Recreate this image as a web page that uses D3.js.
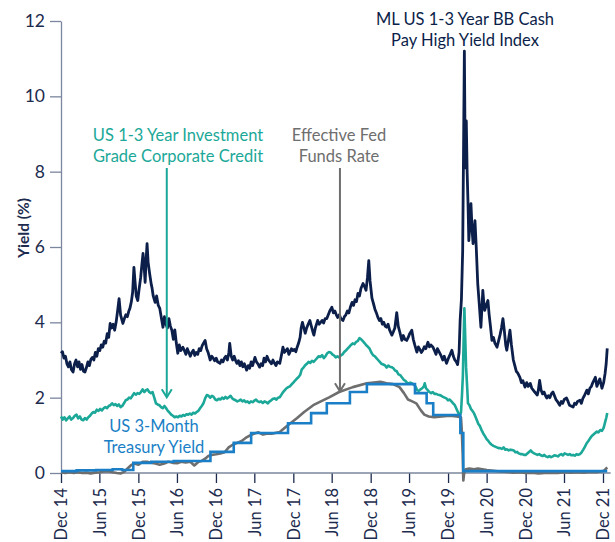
<!DOCTYPE html>
<html><head><meta charset="utf-8">
<script src="https://cdn.jsdelivr.net/npm/d3@7"></script>
<style>
body{margin:0;background:#fff}
svg{display:block}
text{font-family:Lato, "Open Sans", sans-serif}
</style>
</head><body>
<svg id="chart" width="615" height="542"></svg>
<script>
// ---------- DATA ----------
const xTickDates = ["2014-12-31","2015-06-30","2015-12-31","2016-06-30","2016-12-31","2017-06-30","2017-12-31","2018-06-30","2018-12-31","2019-06-30","2019-12-31","2020-06-30","2020-12-31","2021-06-30","2021-12-31"];
const xTickLabels = ["Dec 14","Jun 15","Dec 15","Jun 16","Dec 16","Jun 17","Dec 17","Jun 18","Dec 18","Jun 19","Dec 19","Jun 20","Dec 20","Jun 21","Dec 21"];
const yTicks = [0,2,4,6,8,10,12];

// ML US 1-3 Year BB Cash Pay High Yield Index
const highYield = [
["2014-12-31",3.18],["2015-01-07",3.22],["2015-01-14",3.05],["2015-01-21",3.1],["2015-01-28",2.9],["2015-02-04",2.82],["2015-02-11",2.95],["2015-02-18",2.75],["2015-02-26",2.68],["2015-03-05",2.9],["2015-03-12",3.0],["2015-03-19",2.82],["2015-03-26",2.95],["2015-04-02",2.75],["2015-04-09",2.88],["2015-04-16",2.7],["2015-04-23",2.68],["2015-04-30",2.8],["2015-05-07",2.95],["2015-05-14",2.85],["2015-05-21",3.02],["2015-05-28",3.07],["2015-06-04",3.0],["2015-06-11",3.2],["2015-06-18",3.1],["2015-06-25",3.3],["2015-07-02",3.25],["2015-07-09",3.4],["2015-07-16",3.34],["2015-07-23",3.5],["2015-07-30",3.45],["2015-08-06",3.7],["2015-08-13",3.6],["2015-08-20",3.97],["2015-08-27",3.85],["2015-09-03",3.95],["2015-09-10",3.79],["2015-09-17",4.0],["2015-09-24",4.3],["2015-10-01",4.63],["2015-10-08",4.2],["2015-10-15",4.05],["2015-10-19",3.97],["2015-10-26",4.1],["2015-11-02",4.2],["2015-11-09",4.15],["2015-11-16",4.3],["2015-11-21",4.37],["2015-11-28",4.55],["2015-12-04",4.8],["2015-12-10",5.46],["2015-12-15",5.1],["2015-12-21",4.7],["2015-12-28",4.58],["2016-01-04",4.9],["2016-01-11",5.2],["2016-01-16",5.5],["2016-01-22",5.83],["2016-01-27",5.5],["2016-02-01",5.06],["2016-02-05",5.6],["2016-02-10",6.09],["2016-02-15",5.6],["2016-02-22",5.3],["2016-03-01",5.0],["2016-03-04",4.93],["2016-03-10",4.7],["2016-03-19",4.53],["2016-03-26",4.7],["2016-04-03",4.45],["2016-04-10",4.37],["2016-04-18",4.1],["2016-04-25",3.87],["2016-05-02",4.15],["2016-05-09",3.95],["2016-05-16",3.85],["2016-05-23",4.1],["2016-05-30",3.9],["2016-06-06",3.79],["2016-06-13",3.55],["2016-06-20",3.8],["2016-06-27",3.45],["2016-07-04",3.18],["2016-07-11",3.4],["2016-07-18",3.25],["2016-07-28",3.34],["2016-08-04",3.25],["2016-08-11",3.15],["2016-08-18",3.3],["2016-08-25",3.2],["2016-09-01",3.1],["2016-09-08",3.2],["2016-09-15",3.26],["2016-09-22",3.12],["2016-09-29",3.2],["2016-10-06",3.15],["2016-10-13",3.3],["2016-10-20",3.25],["2016-10-27",3.38],["2016-11-03",3.45],["2016-11-10",3.52],["2016-11-17",3.3],["2016-11-24",3.2],["2016-12-04",3.0],["2016-12-11",3.1],["2016-12-18",3.05],["2016-12-25",2.98],["2017-01-01",3.05],["2017-01-08",2.95],["2017-01-19",2.91],["2017-01-26",3.0],["2017-02-02",2.95],["2017-02-09",3.05],["2017-02-16",3.1],["2017-02-23",3.0],["2017-03-02",3.2],["2017-03-06",3.44],["2017-03-13",3.1],["2017-03-20",3.0],["2017-03-27",3.1],["2017-04-03",2.98],["2017-04-09",2.91],["2017-04-16",2.98],["2017-04-23",2.85],["2017-04-30",2.95],["2017-05-07",2.82],["2017-05-14",2.9],["2017-05-25",2.73],["2017-06-01",2.85],["2017-06-08",2.78],["2017-06-15",2.95],["2017-06-22",2.85],["2017-07-03",3.07],["2017-07-10",2.95],["2017-07-17",2.9],["2017-07-25",2.81],["2017-08-01",2.9],["2017-08-08",2.85],["2017-08-15",3.05],["2017-08-22",2.95],["2017-08-29",3.1],["2017-09-05",3.0],["2017-09-12",2.95],["2017-09-19",2.9],["2017-09-26",3.0],["2017-10-03",2.92],["2017-10-10",2.85],["2017-10-17",2.95],["2017-10-28",2.91],["2017-11-04",3.1],["2017-11-12",3.34],["2017-11-19",3.2],["2017-11-26",3.25],["2017-12-03",3.3],["2017-12-10",3.15],["2017-12-15",3.21],["2017-12-22",3.3],["2017-12-29",3.25],["2018-01-05",3.28],["2018-01-12",3.22],["2018-01-18",3.34],["2018-01-25",3.45],["2018-02-01",3.6],["2018-02-06",3.85],["2018-02-12",4.0],["2018-02-19",3.85],["2018-02-25",3.71],["2018-03-04",3.85],["2018-03-11",3.95],["2018-03-19",4.05],["2018-03-26",3.9],["2018-04-02",3.75],["2018-04-07",3.66],["2018-04-14",3.85],["2018-04-25",4.05],["2018-05-02",3.95],["2018-05-09",4.0],["2018-05-16",4.05],["2018-05-23",3.98],["2018-05-30",4.1],["2018-06-07",4.1],["2018-06-14",4.2],["2018-06-21",4.3],["2018-07-01",4.4],["2018-07-08",4.25],["2018-07-15",4.3],["2018-07-22",4.2],["2018-07-28",4.13],["2018-08-05",4.2],["2018-08-12",4.1],["2018-08-22",4.05],["2018-08-29",4.15],["2018-09-05",4.2],["2018-09-12",4.3],["2018-09-19",4.25],["2018-09-26",4.4],["2018-10-04",4.53],["2018-10-11",4.45],["2018-10-18",4.6],["2018-10-25",4.55],["2018-11-01",4.77],["2018-11-08",4.7],["2018-11-15",4.9],["2018-11-25",5.03],["2018-12-02",4.95],["2018-12-09",4.85],["2018-12-16",5.2],["2018-12-22",5.64],["2018-12-28",5.1],["2019-01-06",4.64],["2019-01-13",4.5],["2019-01-20",4.35],["2019-01-27",4.25],["2019-02-03",4.13],["2019-02-10",4.05],["2019-02-17",4.1],["2019-02-24",3.95],["2019-03-03",4.0],["2019-03-09",3.9],["2019-03-16",3.87],["2019-03-23",3.95],["2019-03-30",3.8],["2019-04-10",3.66],["2019-04-17",3.75],["2019-04-24",3.85],["2019-05-03",4.26],["2019-05-10",3.9],["2019-05-17",3.75],["2019-05-27",3.52],["2019-06-03",3.65],["2019-06-10",3.55],["2019-06-19",3.52],["2019-06-26",3.6],["2019-07-03",3.7],["2019-07-13",3.79],["2019-07-20",3.55],["2019-07-27",3.4],["2019-08-06",3.21],["2019-08-13",3.35],["2019-08-20",3.28],["2019-08-27",3.2],["2019-09-03",3.26],["2019-09-10",3.35],["2019-09-17",3.3],["2019-09-27",3.47],["2019-10-04",3.35],["2019-10-11",3.4],["2019-10-21",3.34],["2019-10-28",3.25],["2019-11-04",3.15],["2019-11-11",3.3],["2019-11-22",3.18],["2019-11-29",3.1],["2019-12-06",3.0],["2019-12-13",3.1],["2019-12-24",2.91],["2020-01-02",3.05],["2020-01-10",3.15],["2020-01-18",3.26],["2020-01-25",3.1],["2020-02-01",3.0],["2020-02-08",2.95],["2020-02-14",2.88],["2020-02-21",3.2],["2020-02-26",4.05],["2020-03-03",4.6],["2020-03-09",5.9],["2020-03-13",8.5],["2020-03-17",11.2],["2020-03-20",9.0],["2020-03-23",8.1],["2020-03-26",9.35],["2020-03-30",8.0],["2020-04-03",7.2],["2020-04-07",6.17],["2020-04-12",6.6],["2020-04-17",7.15],["2020-04-22",6.5],["2020-04-27",6.09],["2020-05-02",6.4],["2020-05-06",6.7],["2020-05-12",6.0],["2020-05-19",5.03],["2020-05-26",4.5],["2020-06-03",3.87],["2020-06-08",4.4],["2020-06-12",4.85],["2020-06-17",4.5],["2020-06-21",4.32],["2020-06-28",4.45],["2020-07-06",4.58],["2020-07-12",4.2],["2020-07-18",3.9],["2020-07-25",3.52],["2020-08-01",3.6],["2020-08-08",3.45],["2020-08-18",3.34],["2020-08-25",3.5],["2020-09-01",3.66],["2020-09-08",3.85],["2020-09-15",4.1],["2020-09-22",3.75],["2020-09-28",3.4],["2020-10-03",3.26],["2020-10-10",3.5],["2020-10-18",3.79],["2020-10-25",3.4],["2020-11-03",3.0],["2020-11-10",2.85],["2020-11-17",2.7],["2020-11-24",2.65],["2020-12-04",2.54],["2020-12-11",2.4],["2020-12-18",2.45],["2020-12-28",2.28],["2021-01-05",2.4],["2021-01-12",2.3],["2021-01-22",2.38],["2021-01-29",2.25],["2021-02-05",2.2],["2021-02-12",2.15],["2021-02-24",2.07],["2021-03-01",2.2],["2021-03-07",2.46],["2021-03-14",2.2],["2021-03-21",2.1],["2021-03-28",2.15],["2021-04-04",2.05],["2021-04-10",1.99],["2021-04-17",2.05],["2021-04-24",2.0],["2021-05-01",2.1],["2021-05-09",2.15],["2021-05-16",2.05],["2021-05-23",1.95],["2021-05-30",1.9],["2021-06-10",1.8],["2021-06-17",1.9],["2021-06-24",1.85],["2021-07-01",1.95],["2021-07-12",1.99],["2021-07-19",1.9],["2021-07-26",1.8],["2021-08-02",1.78],["2021-08-12",1.75],["2021-08-19",1.85],["2021-08-26",1.82],["2021-09-02",1.9],["2021-09-13",1.93],["2021-09-20",1.85],["2021-09-27",1.98],["2021-10-04",2.05],["2021-10-16",2.2],["2021-10-23",2.1],["2021-10-30",2.25],["2021-11-06",2.3],["2021-11-13",2.4],["2021-11-25",2.54],["2021-12-02",2.3],["2021-12-09",2.4],["2021-12-16",2.5],["2021-12-26",2.25],["2022-01-03",2.4],["2022-01-10",2.65],["2022-01-15",2.9],["2022-01-20",3.31]
];

// US 1-3 Year Investment Grade Corporate Credit
const investmentGrade = [
["2014-12-31",1.5],["2015-01-08",1.42],["2015-01-16",1.48],["2015-01-24",1.4],["2015-02-01",1.45],["2015-02-09",1.5],["2015-02-17",1.42],["2015-02-26",1.46],["2015-03-06",1.52],["2015-03-14",1.55],["2015-03-22",1.45],["2015-03-30",1.5],["2015-04-07",1.42],["2015-04-15",1.4],["2015-04-23",1.46],["2015-05-01",1.42],["2015-05-09",1.48],["2015-05-17",1.52],["2015-05-25",1.58],["2015-06-02",1.62],["2015-06-10",1.6],["2015-06-18",1.68],["2015-06-26",1.65],["2015-07-04",1.7],["2015-07-12",1.66],["2015-07-20",1.72],["2015-07-28",1.75],["2015-08-05",1.72],["2015-08-13",1.78],["2015-08-21",1.8],["2015-08-29",1.85],["2015-09-06",1.8],["2015-09-14",1.83],["2015-09-22",1.78],["2015-09-30",1.82],["2015-10-08",1.75],["2015-10-16",1.78],["2015-10-24",1.85],["2015-11-01",1.93],["2015-11-09",1.95],["2015-11-17",2.0],["2015-11-25",1.98],["2015-12-03",2.05],["2015-12-11",2.12],["2015-12-19",2.08],["2015-12-27",2.12],["2016-01-04",2.1],["2016-01-12",2.15],["2016-01-20",2.22],["2016-01-28",2.15],["2016-02-05",2.2],["2016-02-12",2.22],["2016-02-20",2.15],["2016-02-28",2.12],["2016-03-07",2.15],["2016-03-15",2.0],["2016-03-23",1.85],["2016-03-31",1.82],["2016-04-08",1.8],["2016-04-16",1.75],["2016-04-24",1.72],["2016-05-02",1.78],["2016-05-10",1.72],["2016-05-18",1.65],["2016-05-26",1.6],["2016-06-03",1.55],["2016-06-11",1.52],["2016-06-19",1.48],["2016-06-27",1.5],["2016-07-05",1.48],["2016-07-13",1.52],["2016-07-21",1.5],["2016-07-29",1.54],["2016-08-06",1.52],["2016-08-14",1.56],["2016-08-22",1.55],["2016-08-30",1.58],["2016-09-07",1.55],["2016-09-15",1.6],["2016-09-23",1.58],["2016-10-01",1.62],["2016-10-09",1.65],["2016-10-17",1.72],["2016-10-25",1.78],["2016-11-02",1.85],["2016-11-10",1.98],["2016-11-18",2.07],["2016-11-26",2.05],["2016-12-04",2.0],["2016-12-12",2.05],["2016-12-20",2.02],["2016-12-28",1.95],["2017-01-05",1.93],["2017-01-13",1.97],["2017-01-21",1.95],["2017-01-29",2.0],["2017-02-06",1.97],["2017-02-14",2.02],["2017-02-22",1.98],["2017-03-02",2.01],["2017-03-10",2.05],["2017-03-18",1.98],["2017-03-26",1.95],["2017-04-03",1.93],["2017-04-11",1.9],["2017-04-19",1.92],["2017-04-27",1.95],["2017-05-05",1.9],["2017-05-13",1.93],["2017-05-21",1.88],["2017-05-29",1.9],["2017-06-06",1.86],["2017-06-14",1.9],["2017-06-22",1.88],["2017-06-30",1.92],["2017-07-08",1.95],["2017-07-16",1.9],["2017-07-24",1.88],["2017-08-01",1.9],["2017-08-09",1.86],["2017-08-17",1.9],["2017-08-25",1.88],["2017-09-02",1.85],["2017-09-10",1.9],["2017-09-18",1.93],["2017-09-26",1.97],["2017-10-04",1.98],["2017-10-12",1.95],["2017-10-20",2.0],["2017-10-28",2.01],["2017-11-05",2.08],["2017-11-13",2.15],["2017-11-21",2.2],["2017-11-29",2.25],["2017-12-07",2.28],["2017-12-15",2.3],["2017-12-23",2.35],["2017-12-31",2.4],["2018-01-08",2.45],["2018-01-16",2.5],["2018-01-24",2.54],["2018-02-01",2.6],["2018-02-09",2.75],["2018-02-17",2.8],["2018-02-25",2.86],["2018-03-05",2.9],["2018-03-13",2.95],["2018-03-21",2.92],["2018-03-29",2.98],["2018-04-06",2.95],["2018-04-14",3.0],["2018-04-22",3.05],["2018-04-30",3.1],["2018-05-08",3.08],["2018-05-16",3.13],["2018-05-24",3.05],["2018-06-01",3.1],["2018-06-09",3.18],["2018-06-17",3.21],["2018-06-25",3.2],["2018-07-03",3.15],["2018-07-11",3.12],["2018-07-19",3.07],["2018-07-27",3.1],["2018-08-04",3.07],["2018-08-12",3.12],["2018-08-20",3.15],["2018-08-28",3.21],["2018-09-05",3.25],["2018-09-13",3.3],["2018-09-21",3.35],["2018-09-29",3.4],["2018-10-07",3.44],["2018-10-15",3.42],["2018-10-23",3.48],["2018-10-31",3.5],["2018-11-08",3.58],["2018-11-16",3.55],["2018-11-24",3.5],["2018-12-02",3.45],["2018-12-10",3.39],["2018-12-18",3.35],["2018-12-26",3.3],["2019-01-03",3.2],["2019-01-11",3.13],["2019-01-19",3.1],["2019-01-27",3.05],["2019-02-04",3.0],["2019-02-12",2.95],["2019-02-20",2.9],["2019-02-28",2.88],["2019-03-08",2.86],["2019-03-16",2.8],["2019-03-24",2.85],["2019-04-01",2.82],["2019-04-09",2.81],["2019-04-17",2.78],["2019-04-25",2.72],["2019-05-03",2.7],["2019-05-11",2.62],["2019-05-19",2.6],["2019-05-27",2.54],["2019-06-04",2.48],["2019-06-12",2.45],["2019-06-20",2.4],["2019-06-28",2.38],["2019-07-06",2.4],["2019-07-14",2.38],["2019-07-22",2.35],["2019-07-30",2.3],["2019-08-07",2.2],["2019-08-15",2.18],["2019-08-23",2.22],["2019-08-31",2.25],["2019-09-08",2.3],["2019-09-12",2.38],["2019-09-18",2.25],["2019-09-26",2.2],["2019-10-04",2.15],["2019-10-12",2.12],["2019-10-20",2.15],["2019-10-28",2.1],["2019-11-05",2.1],["2019-11-13",2.08],["2019-11-21",2.07],["2019-11-29",2.05],["2019-12-07",2.02],["2019-12-15",2.0],["2019-12-23",1.98],["2019-12-31",1.93],["2020-01-08",1.95],["2020-01-16",1.9],["2020-01-24",1.85],["2020-02-01",1.8],["2020-02-09",1.7],["2020-02-17",1.6],["2020-02-24",1.55],["2020-03-01",1.6],["2020-03-06",2.1],["2020-03-10",2.6],["2020-03-13",3.4],["2020-03-17",4.37],["2020-03-21",3.6],["2020-03-25",2.81],["2020-03-30",2.3],["2020-04-03",1.85],["2020-04-10",1.8],["2020-04-17",1.7],["2020-04-24",1.65],["2020-05-01",1.59],["2020-05-08",1.5],["2020-05-15",1.4],["2020-05-22",1.3],["2020-05-29",1.25],["2020-06-06",1.14],["2020-06-14",1.05],["2020-06-22",0.98],["2020-06-30",0.9],["2020-07-08",0.85],["2020-07-16",0.79],["2020-07-24",0.75],["2020-08-01",0.72],["2020-08-09",0.7],["2020-08-17",0.68],["2020-08-25",0.66],["2020-09-02",0.66],["2020-09-10",0.64],["2020-09-18",0.68],["2020-09-26",0.62],["2020-10-04",0.63],["2020-10-12",0.6],["2020-10-20",0.62],["2020-10-28",0.61],["2020-11-05",0.6],["2020-11-13",0.55],["2020-11-21",0.56],["2020-11-29",0.52],["2020-12-07",0.5],["2020-12-15",0.5],["2020-12-23",0.48],["2020-12-31",0.48],["2021-01-08",0.52],["2021-01-16",0.56],["2021-01-24",0.6],["2021-02-01",0.55],["2021-02-09",0.52],["2021-02-17",0.5],["2021-02-25",0.48],["2021-03-05",0.5],["2021-03-13",0.47],["2021-03-21",0.45],["2021-03-29",0.48],["2021-04-06",0.44],["2021-04-14",0.42],["2021-04-22",0.45],["2021-04-30",0.42],["2021-05-08",0.44],["2021-05-16",0.47],["2021-05-24",0.46],["2021-06-01",0.44],["2021-06-09",0.48],["2021-06-17",0.5],["2021-06-25",0.47],["2021-07-03",0.52],["2021-07-11",0.5],["2021-07-19",0.48],["2021-07-27",0.5],["2021-08-04",0.47],["2021-08-12",0.48],["2021-08-20",0.46],["2021-08-28",0.5],["2021-09-05",0.48],["2021-09-13",0.5],["2021-09-21",0.55],["2021-09-29",0.62],["2021-10-07",0.7],["2021-10-15",0.79],["2021-10-23",0.85],["2021-10-31",0.92],["2021-11-08",0.98],["2021-11-16",1.02],["2021-11-24",1.06],["2021-12-02",1.1],["2021-12-10",1.08],["2021-12-18",1.14],["2021-12-26",1.12],["2022-01-03",1.2],["2022-01-10",1.35],["2022-01-16",1.48],["2022-01-20",1.59]
];

// Effective Fed Funds Rate (grey)
const fedFunds = [
["2014-12-31",0.02],["2015-01-20",0.0],["2015-02-10",0.02],["2015-03-01",0.0],["2015-03-20",0.02],["2015-04-10",0.0],["2015-05-01",0.01],["2015-05-20",-0.01],["2015-06-10",0.01],["2015-07-01",0.02],["2015-07-20",0.04],["2015-08-10",0.05],["2015-09-01",0.02],["2015-09-20",0.0],["2015-10-10",-0.01],["2015-10-25",0.03],["2015-11-10",0.12],["2015-11-25",0.2],["2015-12-10",0.25],["2016-01-01",0.22],["2016-01-20",0.3],["2016-02-10",0.3],["2016-03-01",0.27],["2016-03-20",0.25],["2016-04-10",0.22],["2016-05-01",0.25],["2016-05-20",0.3],["2016-06-10",0.27],["2016-07-01",0.26],["2016-07-20",0.3],["2016-08-10",0.28],["2016-09-01",0.3],["2016-09-20",0.2],["2016-10-10",0.3],["2016-10-25",0.32],["2016-11-10",0.38],["2016-11-25",0.45],["2016-12-10",0.48],["2017-01-01",0.5],["2017-01-20",0.52],["2017-02-10",0.55],["2017-03-01",0.68],["2017-03-20",0.75],["2017-04-10",0.8],["2017-05-01",0.85],["2017-05-20",0.93],["2017-06-10",1.0],["2017-07-01",1.05],["2017-07-20",1.08],["2017-08-10",1.02],["2017-09-01",1.05],["2017-09-20",1.04],["2017-10-28",1.09],["2017-12-01",1.25],["2018-01-18",1.46],["2018-02-20",1.62],["2018-04-04",1.8],["2018-05-10",1.9],["2018-06-18",2.01],["2018-08-04",2.15],["2018-10-08",2.28],["2018-12-13",2.38],["2019-01-15",2.4],["2019-02-15",2.42],["2019-03-16",2.38],["2019-04-15",2.36],["2019-05-16",2.28],["2019-06-06",2.12],["2019-06-25",1.95],["2019-07-15",1.9],["2019-08-03",1.85],["2019-08-24",1.67],["2019-09-10",1.55],["2019-10-01",1.5],["2019-10-27",1.48],["2019-12-01",1.5],["2020-01-10",1.52],["2020-02-10",1.5],["2020-03-01",1.48],["2020-03-05",1.1],["2020-03-09",0.5],["2020-03-12",-0.2],["2020-03-16",0.0],["2020-03-24",0.1],["2020-04-10",0.12],["2020-05-01",0.1],["2020-05-20",0.12],["2020-06-10",0.1],["2020-07-01",0.08],["2020-08-01",0.06],["2020-09-01",0.04],["2020-10-01",0.03],["2020-11-01",0.01],["2020-12-01",0.02],["2021-01-01",0.0],["2021-02-01",0.01],["2021-03-01",-0.01],["2021-04-01",0.0],["2021-05-01",0.01],["2021-06-01",0.0],["2021-07-01",0.02],["2021-08-01",0.01],["2021-09-01",0.02],["2021-10-01",0.01],["2021-11-01",0.03],["2021-12-01",0.02],["2021-12-20",0.04],["2022-01-05",0.06],["2022-01-20",0.15]
];

// US 3-Month Treasury Yield (blue, stepped)
const treasury3m = [
["2014-12-31",0.05],["2015-03-15",0.07],["2015-06-15",0.08],["2015-09-01",0.1],["2015-10-15",0.08],["2015-12-07",0.27],["2016-03-01",0.3],["2016-06-15",0.32],["2016-12-05",0.56],["2017-03-25",0.8],["2017-06-15",1.06],["2017-12-06",1.32],["2018-03-25",1.59],["2018-06-07",1.85],["2018-09-24",2.15],["2018-12-13",2.36],["2019-07-28",2.12],["2019-09-21",1.85],["2019-10-22",1.54],["2020-02-27",1.06],["2020-03-12",0.05],["2022-01-20",0.05]
];

// ---------- CHART ----------
const parse = d3.timeParse("%Y-%m-%d");
const svg = d3.select("#chart");
const navy = "#0c1f4a", teal = "#1ba898", grey = "#6e6e6e", blue = "#1a7fc6";
const axisColor = "#7b879e", labelColor = "#1c2b4e";

const x = d3.scaleTime()
  .domain([parse("2014-12-31"), parse("2021-12-31")])
  .range([61, 603]);
const y = d3.scaleLinear().domain([0, 12]).range([473, 21]);

// Y axis
const yAxis = svg.append("g").attr("transform", "translate(61,0)")
  .call(d3.axisLeft(y).tickValues(yTicks).tickSize(11).tickPadding(5).tickSizeOuter(0));
yAxis.select(".domain").attr("stroke", axisColor).attr("stroke-width", 1.3);
yAxis.selectAll(".tick line").attr("stroke", axisColor).attr("stroke-width", 1.3);
yAxis.selectAll(".tick text").attr("fill", labelColor).style("font-size", "17.5px");

// X axis
const xAxis = svg.append("g").attr("transform", "translate(0,473)")
  .call(d3.axisBottom(x).tickValues(xTickDates.map(parse))
    .tickFormat((d, i) => xTickLabels[i]).tickSize(10).tickSizeOuter(0));
xAxis.select(".domain").remove();
xAxis.append("line").attr("x1", x.range()[0]).attr("x2", x(parse("2022-02-05")))
  .attr("stroke", axisColor).attr("stroke-width", 1.3);
xAxis.selectAll(".tick line").attr("stroke", labelColor).attr("stroke-width", 1.3);
xAxis.selectAll(".tick text")
  .attr("fill", labelColor).style("font-size", "16.5px")
  .attr("transform", "rotate(-90)")
  .attr("text-anchor", "end")
  .attr("x", -15).attr("y", 0).attr("dy", "0.35em");

// Y label
svg.append("text")
  .attr("transform", "translate(29,228) rotate(-90)")
  .attr("text-anchor", "middle").attr("fill", labelColor)
  .style("font-size", "15.5px").style("font-weight", "bold")
  .text("Yield (%)");

// Lines
const line = d3.line().x(d => x(parse(d[0]))).y(d => y(d[1]));
const stepLine = d3.line().x(d => x(parse(d[0]))).y(d => y(d[1])).curve(d3.curveStepAfter);

svg.append("path").datum(highYield).attr("d", line)
  .attr("fill", "none").attr("stroke", navy).attr("stroke-width", 2.8).attr("stroke-linejoin", "round");
svg.append("path").datum(investmentGrade).attr("d", line)
  .attr("fill", "none").attr("stroke", teal).attr("stroke-width", 2.6).attr("stroke-linejoin", "round");
svg.append("path").datum(fedFunds).attr("d", line)
  .attr("fill", "none").attr("stroke", grey).attr("stroke-width", 2.6).attr("stroke-linejoin", "round");
svg.append("path").datum(treasury3m).attr("d", stepLine)
  .attr("fill", "none").attr("stroke", blue).attr("stroke-width", 2.6);

// Annotations
function label(lines, cx, baseY, color) {
  const t = svg.append("text").attr("text-anchor", "middle").attr("fill", color)
    .style("font-size", "16.5px");
  lines.forEach((s, i) => t.append("tspan").attr("x", cx).attr("y", baseY + i * 20.5).text(s));
}
label(["ML US 1-3 Year BB Cash", "Pay High Yield Index"], 465, 25, navy);
label(["US 1-3 Year Investment", "Grade Corporate Credit"], 178, 141, teal);
label(["Effective Fed", "Funds Rate"], 339, 141, grey);
label(["US 3-Month", "Treasury Yield"], 154, 432, blue);

function arrow(dateStr, val, topY, color) {
  const ax = x(parse(dateStr)), ay = y(val);
  svg.append("line").attr("x1", ax).attr("x2", ax).attr("y1", topY).attr("y2", ay - 1)
    .attr("stroke", color).attr("stroke-width", 2);
  svg.append("path").attr("d", `M${ax - 5},${ay - 8} L${ax},${ay} L${ax + 5},${ay - 8}`)
    .attr("fill", "none").attr("stroke", color).attr("stroke-width", 2);
}
arrow("2016-05-13", 2.01, 168, teal);
arrow("2018-08-08", 2.17, 168, grey);
</script>
</body></html>
